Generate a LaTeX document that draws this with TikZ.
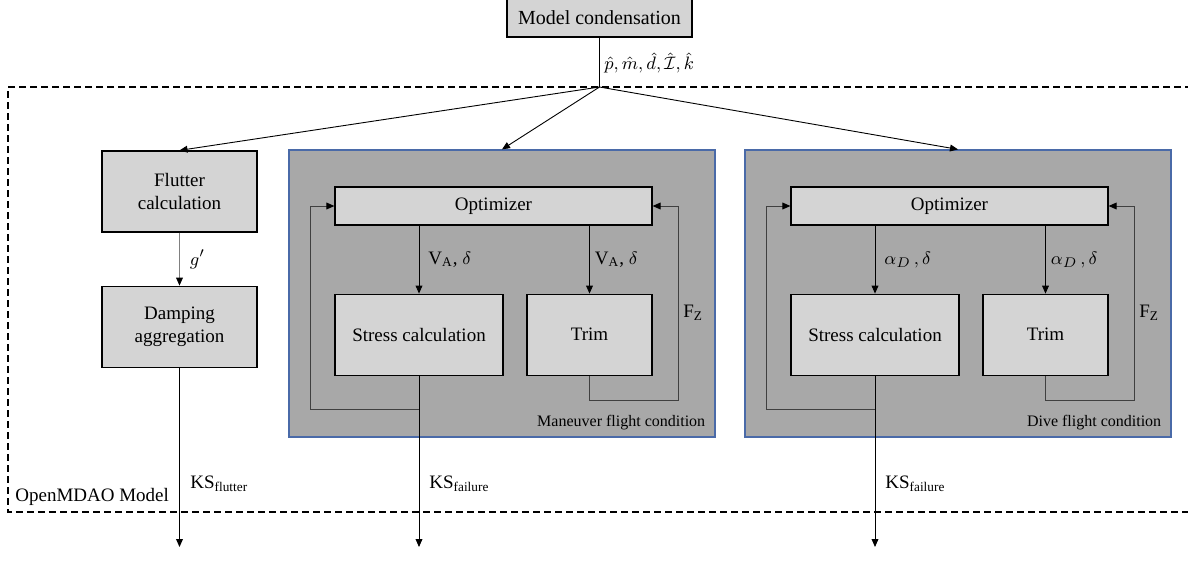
\documentclass[tikz,border=0pt]{standalone}
\usepackage{fontspec}
\setmainfont{Liberation Serif}
\usepackage{amsmath}
\usetikzlibrary{shapes,arrows.meta,positioning,calc}
\definecolor{boxgray}{HTML}{D4D4D4}
\definecolor{condgray}{HTML}{A8A8A8}
\definecolor{condblue}{HTML}{4A6AA8}
\tikzstyle{block} = [rectangle, draw=black, line width=0.6pt, fill=boxgray,
    align=center, inner sep=2pt, font=\fontsize{9.5}{11.5}\selectfont]
\tikzstyle{condbox} = [rectangle, draw=condblue, line width=0.6pt, fill=condgray,
    minimum width=213pt, minimum height=143.5pt]
\tikzstyle{arrow} = [-{Triangle[length=4pt,width=3.4pt,color=black]}, line width=0.45pt, black]
\tikzstyle{loopline} = [arrow, draw=black!75]
\tikzstyle{lbl} = [inner sep=0pt, anchor=west, font=\fontsize{9.5}{11.5}\selectfont]
\tikzstyle{condlbl} = [inner sep=0pt, font=\fontsize{8}{9.5}\selectfont]

\begin{document}
\begin{tikzpicture}[x=0.5pt, y=-0.5pt]
\useasboundingbox (0,0) rectangle (1188,562);

% OpenMDAO model boundary
\draw[line width=0.6pt, dash pattern=on 3.5pt off 2pt] (1192,87) -- (8,87) -- (8,512) -- (1192,512);
\node[lbl] (mdao) at (15,497) {OpenMDAO Model};

% top
\node[block, minimum width=92.5pt, minimum height=19pt, font=\fontsize{10}{12}\selectfont] (cond) at (599.5,18) {Model condensation};
\coordinate (hub) at (599.5,87);
\draw[line width=0.45pt] (cond) -- (hub);
\node[lbl] (shared) at (604,63) {$\hat{p},\hat{m},\hat{d},\hat{\mathcal{I}},\hat{k}$};

% flutter branch
\node[block, minimum width=77.5pt, minimum height=40.5pt] (flutter) at (179.5,191.5) {Flutter\\calculation};
\node[block, minimum width=77.5pt, minimum height=40.5pt, below=26.5pt of flutter] (damping) {Damping\\aggregation};

% flight conditions
\node[condbox] (maneuver) at (502,293.5) {};
\node[condbox] (dive) at (958,293.5) {};
\node[condlbl, above left=3.5pt and 5pt of maneuver.south east] (manlbl) {Maneuver flight condition};
\node[condlbl, above left=3.5pt and 5pt of dive.south east] (divelbl) {Dive flight condition};

\node[block, minimum width=158.5pt, minimum height=19pt] (opt1) at (493.5,206) {Optimizer};
\node[block, minimum width=84pt, minimum height=40.5pt, below right=34pt and 0pt of opt1.south west] (stress1) {Stress calculation};
\node[block, minimum width=62.5pt, minimum height=40.5pt, below left=34pt and 0pt of opt1.south east] (trim1) {Trim};

\node[block, minimum width=158.5pt, minimum height=19pt] (opt2) at (949.5,206) {Optimizer};
\node[block, minimum width=84pt, minimum height=40.5pt, below right=34pt and 0pt of opt2.south west] (stress2) {Stress calculation};
\node[block, minimum width=62.5pt, minimum height=40.5pt, below left=34pt and 0pt of opt2.south east] (trim2) {Trim};

% outputs
\coordinate (ksflut) at (179.5,547);
\coordinate (ksman) at (419,547);
\coordinate (ksdive) at (875,547);

\draw[arrow] (hub) -- (flutter.north);
\draw[arrow] (hub) -- (maneuver.north);
\draw[arrow] (hub) -- (dive.north);
\draw[arrow, draw=black!50] (flutter) -- node[lbl, right=5pt] (gp) {$g'$} (damping);

\draw[arrow] (stress1.north |- opt1.south) -- node[lbl, right=4.5pt] (va1) {V\textsubscript{A}, $\delta$} (stress1.north);
\draw[arrow] (trim1.north |- opt1.south) -- node[lbl, right=2.5pt] (va2) {V\textsubscript{A}, $\delta$} (trim1.north);
\draw[loopline] (stress1.south) -- ++(0,34) -| ($(opt1.west)+(-24,0)$) -- (opt1.west);
\draw[loopline] (trim1.south) -- ++(0,25) -| ($(opt1.east)+(26,0)$) -- (opt1.east);
\node[lbl] (fz1) at (683,313) {F\textsubscript{Z}};

\draw[arrow] (stress2.north |- opt2.south) -- node[lbl, right=4.5pt] (ad1) {$\alpha_D\,,\delta$} (stress2.north);
\draw[arrow] (trim2.north |- opt2.south) -- node[lbl, right=2.5pt] (ad2) {$\alpha_D\,,\delta$} (trim2.north);
\draw[loopline] (stress2.south) -- ++(0,34) -| ($(opt2.west)+(-24,0)$) -- (opt2.west);
\draw[loopline] (trim2.south) -- ++(0,25) -| ($(opt2.east)+(26,0)$) -- (opt2.east);
\node[lbl] (fz2) at (1139,313) {F\textsubscript{Z}};

\draw[arrow] (damping) -- (ksflut);
\draw[arrow] (stress1.south) -- (ksman);
\draw[arrow] (stress2.south) -- (ksdive);
\node[lbl] (ksf) at (190,484) {KS\textsubscript{flutter}};
\node[lbl] (ksm) at (429,484) {KS\textsubscript{failure}};
\node[lbl] (ksd) at (885,484) {KS\textsubscript{failure}};
\end{tikzpicture}
\end{document}
